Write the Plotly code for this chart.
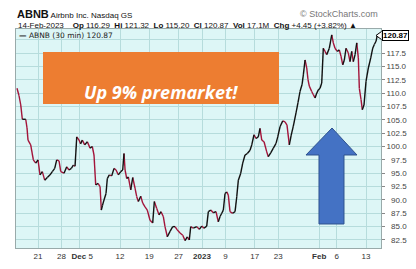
import plotly.graph_objects as go

# ---- data (trading-session index, 30-min price) ----
session = [-0.59, -0.24, 0.05, 0.32, 0.90, 1.12, 1.29, 1.75, 2.20, 2.61, 3.00, 3.34, 3.73, 4.14, 4.59, 5.05,
           5.44, 5.85, 6.19, 6.59, 6.88, 7.44, 7.90, 8.29, 8.69, 9.03, 9.32, 9.61, 10.00, 10.26, 10.56, 10.97,
           11.42, 11.88, 12.27, 12.56, 12.85, 13.24, 13.59, 13.81, 14.01, 14.27, 14.61, 14.83, 15.17, 15.58,
           15.98, 16.32, 16.71, 17.12, 17.46, 17.68, 17.86, 18.15, 18.42, 18.83, 19.17, 19.56, 19.85, 20.13,
           20.54, 20.88, 21.27, 21.66, 22.12, 22.58, 22.86, 23.27, 23.66, 24.00, 24.39, 24.68, 25.08, 25.54,
           26.00, 26.39, 26.78, 27.25, 27.71, 28.10, 28.49, 28.83, 29.07, 29.52, 30.10, 30.54, 30.95, 31.34,
           31.80, 32.08, 32.49, 32.93, 33.39, 33.78, 34.08, 34.37, 34.64, 34.93, 35.22, 35.49, 35.78, 36.24,
           36.64, 36.93, 37.20, 37.61, 37.95, 38.34, 38.74, 39.20, 39.49, 39.88, 40.22, 40.61, 40.90, 41.20,
           41.59, 42.05, 42.32, 42.73, 43.18, 43.64, 43.93, 44.32, 44.78, 45.17, 45.51, 45.91, 46.20, 46.59,
           47.05, 47.39, 47.73, 48.08, 48.30, 48.59, 48.88, 49.10, 49.32, 49.73, 50.01, 50.30, 50.59, 50.86,
           51.15, 51.44, 51.71, 52.00, 52.29, 52.74, 53.15, 53.42, 53.71, 54.10, 54.44, 54.73, 55.03, 55.30,
           55.59, 55.98, 56.27, 56.56, 56.83, 57.13, 57.42, 57.69, 57.86, 58.15, 58.37, 58.66, 59.00, 59.40,
           59.81, 60.15, 60.42, 60.71, 60.93]
price = [110.9, 109.5, 107.8, 105.1, 105.1, 103.5, 101.2, 100.3, 97.5, 96.9, 97.5, 94.7, 95.3, 93.7, 94.2, 94.7,
         95.3, 95.9, 97.5, 97.3, 95.3, 95.0, 96.2, 95.6, 95.9, 96.5, 96.3, 101.8, 101.2, 100.5, 101.2, 100.3,
         100.9, 99.7, 100.0, 98.4, 92.8, 93.1, 92.5, 88.1, 89.0, 90.0, 91.2, 94.0, 94.7, 94.5,
         95.9, 95.6, 94.7, 95.3, 95.6, 98.7, 95.6, 94.0, 94.3, 91.9, 94.2, 92.2, 90.6, 89.7,
         90.7, 89.4, 88.7, 88.1, 86.2, 85.7, 89.7, 88.4, 87.2, 87.8, 86.9, 85.0, 83.1, 84.1,
         85.0, 85.0, 84.4, 83.8, 83.4, 82.4, 83.1, 82.5, 85.0, 84.7, 85.0, 84.5, 85.1, 84.7,
         85.1, 87.8, 88.1, 87.6, 87.8, 85.9, 86.9, 87.5, 88.1, 91.2, 91.5, 90.9, 87.8, 87.5,
         87.8, 90.6, 93.7, 95.0, 96.9, 98.4, 98.7, 99.3, 100.3, 102.2, 101.5, 101.8, 103.4, 101.2,
         100.9, 99.0, 98.1, 98.8, 99.7, 100.6, 101.8, 103.7, 104.8, 104.6, 104.0, 100.3, 102.0, 103.8,
         106.3, 108.2, 110.3, 111.6, 113.4, 116.2, 114.7, 112.5, 111.3, 110.3, 109.7, 109.1, 110.0, 110.6,
         110.9, 111.9, 118.4, 117.8, 117.2, 118.4, 120.9, 119.4, 118.4, 117.8, 118.1, 116.9, 115.3, 116.2,
         118.4, 117.5, 115.9, 117.8, 115.9, 117.2, 119.4, 116.6, 110.9, 108.8, 106.9, 107.8, 112.2, 114.7,
         116.6, 118.4, 119.1, 119.7, 120.87]

grid_sessions = [3, 7, 10, 17, 22, 27, 31, 35, 40, 44, 51, 54, 59]
label_sessions = [3, 7, 10.55, 17, 22, 27, 31, 35, 40, 44, 51, 54, 59]
tick_labels = ["21", "28", "<b>Dec</b> 5", "12", "19", "27", "<b>2023</b>", "9", "17", "23", "<b>Feb</b>", "6", "13"]
y_ticks = [82.5, 85.0, 87.5, 90.0, 92.5, 95.0, 97.5, 100.0, 102.5, 105.0, 107.5, 110.0, 112.5, 115.0, 117.5, 120.0]
last_price = 120.87

UP = "#111111"
DOWN = "#a3143a"

# split into up / down segments
ux, uy, dx, dy = [], [], [], []
for i in range(len(price) - 1):
    if price[i + 1] >= price[i]:
        ux += [session[i], session[i + 1], None]
        uy += [price[i], price[i + 1], None]
    else:
        dx += [session[i], session[i + 1], None]
        dy += [price[i], price[i + 1], None]

fig = go.Figure()
fig.add_trace(go.Scatter(x=dx, y=dy, mode="lines", line=dict(color=DOWN, width=1.4), hoverinfo="skip"))
fig.add_trace(go.Scatter(x=ux, y=uy, mode="lines", line=dict(color=UP, width=1.4), hoverinfo="skip"))
fig.add_trace(go.Scatter(x=[session[0]], y=[price[0]], xaxis="x2", mode="markers",
                         marker=dict(size=1, opacity=0), hoverinfo="skip"))

# 120.0 label is hidden behind the last-price box in the reference
ylabels = ["" if v == 120.0 else ("\u2007" if v < 100 else "") + f"{v:.1f}" for v in y_ticks]

XR = [-0.76, 61.56]
fig.update_layout(
    width=416, height=269,
    margin=dict(l=16, r=35, t=29, b=21, autoexpand=False),
    paper_bgcolor="white",
    plot_bgcolor="#ddf6f6",
    showlegend=False,
    font=dict(family="Liberation Sans, Arial, sans-serif", size=8, color="#333"),
    xaxis=dict(range=XR, tickvals=label_sessions, ticktext=tick_labels, automargin=False,
               showgrid=False, zeroline=False,
               showline=True, linecolor="#9aa", mirror=True, ticks="",
               tickfont=dict(size=8, color="#333")),
    xaxis2=dict(range=XR, overlaying="x", tickvals=grid_sessions, showticklabels=False,
                showgrid=True, gridcolor="#b6dcdc", gridwidth=1, zeroline=False, showline=False,
                ticks="", automargin=False),
    yaxis=dict(range=[81.0, 122.0], side="right", tickvals=y_ticks, ticktext=ylabels, automargin=False,
               showgrid=True, gridcolor="#b6dcdc", gridwidth=1, zeroline=False,
               showline=True, linecolor="#9aa", mirror=True, ticks="outside", ticklen=3,
               tickcolor="#888", tickfont=dict(size=8, color="#444")),
)

def px2x(px):
    return (px - 16) / 365.0

def py2y(py):
    return (248 - py) / 219.0

shapes = []
shapes.append(dict(type="rect", xref="paper", yref="paper", x0=px2x(43), x1=px2x(279), y0=py2y(104), y1=py2y(52),
                   fillcolor="#ed7d31", line=dict(width=0), layer="above"))
pts = [(332, 128), (357, 155), (344, 155), (344, 224), (319, 224), (319, 155), (306, 155)]
path = "M " + " L ".join(f"{px2x(a):.4f},{py2y(b):.4f}" for a, b in pts) + " Z"
shapes.append(dict(type="path", xref="paper", yref="paper", path=path, fillcolor="#4472c4",
                   line=dict(color="#2f528f", width=1), layer="above"))
ppath = f"M {px2x(381.5):.4f},{py2y(31.5):.4f} L {px2x(376):.4f},{py2y(35.5):.4f} L {px2x(381.5):.4f},{py2y(39.5):.4f}"
shapes.append(dict(type="path", xref="paper", yref="paper", path=ppath, fillcolor="white",
                   line=dict(color="black", width=1), layer="above"))
fig.update_layout(shapes=shapes)

ann = []
ann.append(dict(xref="paper", yref="paper", x=px2x(161), y=py2y(78), text="<b><i>Up 9% premarket!</i></b>",
                showarrow=False, font=dict(family="Open Sans, sans-serif", size=18, color="white")))
ann.append(dict(xref="paper", yref="y", x=1, xshift=1, y=last_price, xanchor="left", yanchor="middle",
                text="<b>120.87</b>", showarrow=False, bgcolor="white", bordercolor="black", borderwidth=1,
                borderpad=0, font=dict(family="Liberation Sans, Arial", size=8, color="black")))
ann.append(dict(xref="paper", yref="paper", x=px2x(17), y=py2y(35), xanchor="left", yanchor="middle",
                text="<b>\u2014</b> ABNB (30 min) 120.87", showarrow=False,
                font=dict(family="DejaVu Sans, Verdana", size=7.5, color="#222")))
ann.append(dict(xref="paper", yref="paper", x=px2x(15), y=py2y(14), xanchor="left", yanchor="middle",
                text="<b><span style='font-size:11px'>ABNB</span></b> Airbnb Inc. Nasdaq GS", showarrow=False,
                font=dict(family="Liberation Sans, Arial", size=8, color="#111")))
ann.append(dict(xref="paper", yref="paper", x=px2x(380), y=py2y(14), xanchor="right", yanchor="middle",
                text="\u00a9 StockCharts.com", showarrow=False,
                font=dict(family="Liberation Sans, Arial", size=9, color="#777")))
ann.append(dict(xref="paper", yref="paper", x=px2x(16), y=py2y(25), xanchor="left", yanchor="middle",
                text="14-Feb-2023 &nbsp;&nbsp;&nbsp;<b>Op</b> 116.29 &nbsp;<b>Hi</b> 121.32 &nbsp;<b>Lo</b> 115.20 &nbsp;"
                     "<b>Cl</b> 120.87 &nbsp;<b>Vol</b> 17.1M &nbsp;<b>Chg</b> +4.45 (+3.82%) \u25b2",
                showarrow=False, font=dict(family="Liberation Sans, Arial", size=8, color="#111")))
fig.update_layout(annotations=ann)

fig.write_html("out.html")
